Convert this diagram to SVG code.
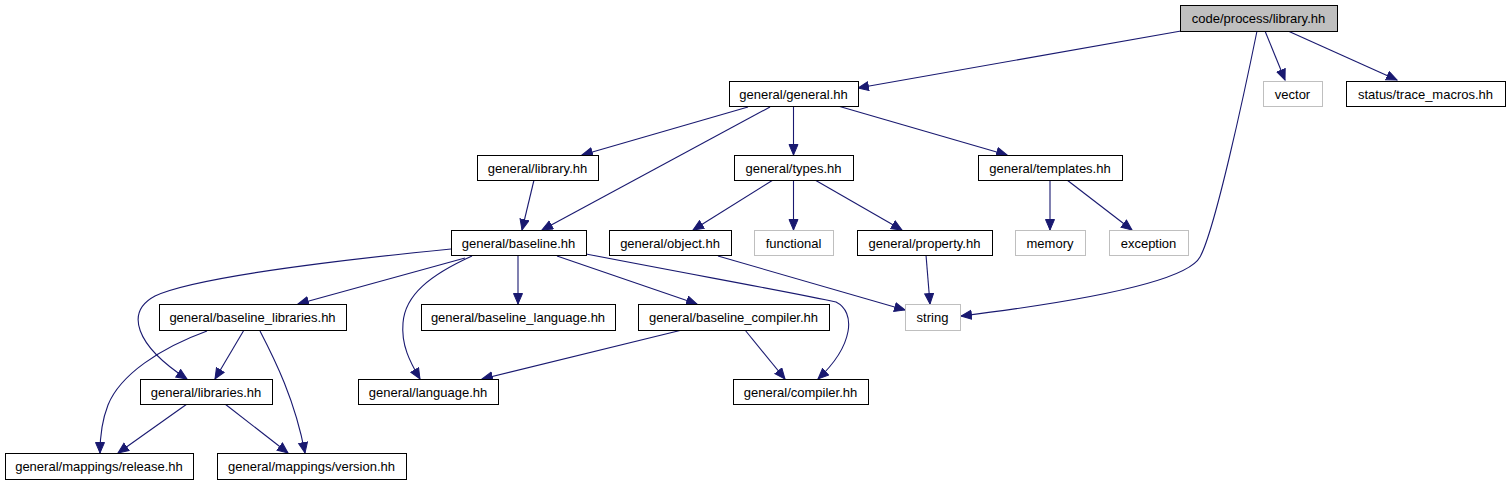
<svg xmlns="http://www.w3.org/2000/svg" width="1511" height="485" viewBox="0 0 1511 485">
<style>
.n rect{fill:#ffffff;stroke:#000000;stroke-width:1}
.n.root rect{fill:#bfbfbf}
.n.ext rect{stroke:#bfbfbf}
.n text{font-family:"Liberation Sans",Arial,sans-serif;font-size:13px;fill:#000000;text-anchor:middle}
.e path{fill:none;stroke:#191970;stroke-width:1.1;marker-end:url(#ah)}
</style>
<defs>
<marker id="ah" markerUnits="userSpaceOnUse" markerWidth="14" markerHeight="12" refX="11" refY="5" orient="auto">
<path d="M0.5,0.5 L11,5 L0.5,9.5 z" fill="#191970" stroke="#191970" stroke-width="1"/>
</marker>
</defs>
<rect width="1511" height="485" fill="#ffffff"/>
<g id="edges" class="e">
<path d="M1181,31 L858,88"/>
<path d="M1257,31 C1245,90 1215,230 1200,257 C1185,285 1050,305 961,316"/>
<path d="M1265,31 L1285,80"/>
<path d="M1288,31 L1397,80"/>
<path d="M748,107 L582,155"/>
<path d="M770,107 L542,230"/>
<path d="M793.5,106 L793.5,155"/>
<path d="M838,106 L1007,155"/>
<path d="M534,180 L522,230"/>
<path d="M773,180 L693,230"/>
<path d="M793.5,180 L793.5,230"/>
<path d="M815,180 L902,230"/>
<path d="M1050,180 L1050,230"/>
<path d="M1067,180 L1132,230"/>
<path d="M926,255 L930,304"/>
<path d="M718,256 L905,310"/>
<path d="M451,249 C380,256 200,275 155,296 C125,312 135,345 187,379"/>
<path d="M465,258 L298,304"/>
<path d="M472,256 C430,275 405,295 403,323 C401,345 410,362 420,379"/>
<path d="M518,255 L518,304"/>
<path d="M557,256 L697,304"/>
<path d="M586,254 C700,276 800,294 836,302 C856,312 854,345 818,379"/>
<path d="M682,330 L482,379"/>
<path d="M745,330 L785,379"/>
<path d="M244,330 L215,379"/>
<path d="M207,331 C160,348 120,375 108,405 C101,423 100,440 100,453"/>
<path d="M260,331 C275,360 295,400 305,453"/>
<path d="M187,404 L118,453"/>
<path d="M225,404 L288,453"/>
</g>
<g id="n1" class="n root"><rect x="1180.5" y="5.5" width="157" height="26"/><text x="1258.5" y="23">code/process/library.hh</text></g>
<g id="n2" class="n"><rect x="729.5" y="81.5" width="129" height="25"/><text x="793.5" y="98.5">general/general.hh</text></g>
<g id="n3" class="n ext"><rect x="1263.5" y="81.5" width="59" height="25"/><text x="1292.5" y="98.5">vector</text></g>
<g id="n4" class="n"><rect x="1346.5" y="81.5" width="159" height="25"/><text x="1425.5" y="98.5">status/trace_macros.hh</text></g>
<g id="n5" class="n"><rect x="477.5" y="155.5" width="121" height="25"/><text x="537.5" y="172.5">general/library.hh</text></g>
<g id="n6" class="n"><rect x="734.5" y="155.5" width="119" height="25"/><text x="793.5" y="172.5">general/types.hh</text></g>
<g id="n7" class="n"><rect x="978.5" y="155.5" width="144" height="25"/><text x="1050" y="172.5">general/templates.hh</text></g>
<g id="n8" class="n"><rect x="451.5" y="230.5" width="135" height="25"/><text x="518.5" y="247.5">general/baseline.hh</text></g>
<g id="n9" class="n"><rect x="609.5" y="230.5" width="122" height="25"/><text x="670" y="247.5">general/object.hh</text></g>
<g id="n10" class="n ext"><rect x="754.5" y="230.5" width="79" height="25"/><text x="793.5" y="247.5">functional</text></g>
<g id="n11" class="n"><rect x="857.5" y="230.5" width="135" height="25"/><text x="924.5" y="247.5">general/property.hh</text></g>
<g id="n12" class="n ext"><rect x="1015.5" y="230.5" width="70" height="25"/><text x="1050" y="247.5">memory</text></g>
<g id="n13" class="n ext"><rect x="1109.5" y="230.5" width="79" height="25"/><text x="1148.5" y="247.5">exception</text></g>
<g id="n14" class="n ext"><rect x="905.5" y="304.5" width="55" height="26"/><text x="932.5" y="322">string</text></g>
<g id="n15" class="n"><rect x="159.5" y="304.5" width="187" height="26"/><text x="252.5" y="322">general/baseline_libraries.hh</text></g>
<g id="n16" class="n"><rect x="421.5" y="304.5" width="194" height="26"/><text x="518" y="322">general/baseline_language.hh</text></g>
<g id="n17" class="n"><rect x="638.5" y="304.5" width="191" height="26"/><text x="733.5" y="322">general/baseline_compiler.hh</text></g>
<g id="n18" class="n"><rect x="140.5" y="379.5" width="132" height="25"/><text x="206" y="396.5">general/libraries.hh</text></g>
<g id="n19" class="n"><rect x="358.5" y="379.5" width="140" height="25"/><text x="428" y="396.5">general/language.hh</text></g>
<g id="n20" class="n"><rect x="733.5" y="379.5" width="135" height="25"/><text x="800.5" y="396.5">general/compiler.hh</text></g>
<g id="n21" class="n"><rect x="5.5" y="453.5" width="188" height="26"/><text x="99" y="471">general/mappings/release.hh</text></g>
<g id="n22" class="n"><rect x="217.5" y="453.5" width="189" height="26"/><text x="311.5" y="471">general/mappings/version.hh</text></g>
</svg>
